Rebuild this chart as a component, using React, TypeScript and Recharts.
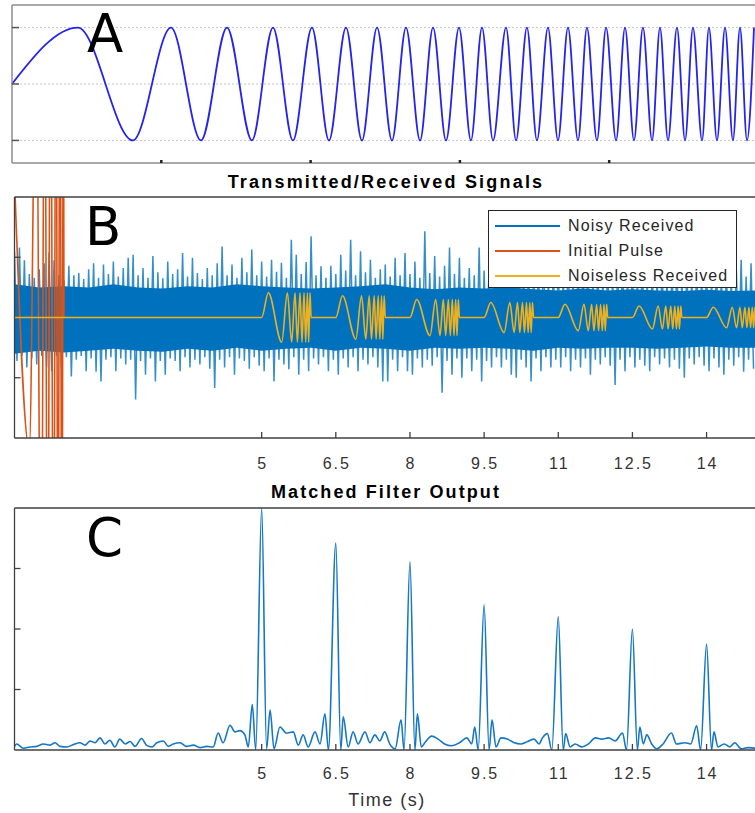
import React from "react";
import { ComposedChart, Line, Area, XAxis, YAxis, CartesianGrid, Legend } from "recharts";

// ---------- panel A: chirp, times of the extrema (peak first, then alternating)
const chirpExtremaTimes = [
  0.442, 0.81, 1.065, 1.266, 1.44, 1.607, 1.748, 1.882, 2.009, 2.123, 2.237, 2.344, 2.445,
  2.545, 2.639, 2.733, 2.82, 2.907, 2.994, 3.074, 3.148, 3.222, 3.309, 3.376, 3.449, 3.516,
  3.59, 3.657, 3.724, 3.791, 3.851, 3.918, 3.979, 4.046, 4.106, 4.166, 4.226, 4.287, 4.34,
  4.394, 4.454, 4.508, 4.561, 4.622, 4.668, 4.722, 4.776, 4.829, 4.876, 4.923, 4.97,
];
const chirpTicksX = [1, 2, 3, 4];
const chirpTicksY = [-1, 0, 1];

// ---------- panel B
const timeTicks = [5, 6.5, 8, 9.5, 11, 12.5, 14];
const signalTicksY = [-1, 1];
const legendNames = ["Noisy Received", "Initial Pulse", "Noiseless Received"];

// noisy received: spike tops / bottoms every 0.1 s
const noiseTop = [
  1.1, 1.16, 0.95, 0.72, 0.66, 0.8, 0.9, 1.08, 0.95, 0.7,
  0.62, 0.86, 0.7, 0.74, 0.64, 0.8, 0.9, 0.66, 0.88, 0.72,
  0.93, 0.68, 0.82, 0.99, 1.04, 0.7, 0.82, 0.66, 1.02, 0.75,
  0.65, 0.93, 0.72, 0.8, 1.07, 0.68, 0.99, 0.74, 0.64, 0.82,
  0.7, 0.9, 1.18, 0.7, 0.88, 0.66, 0.99, 0.75, 1.13, 0.7,
  0.93, 0.68, 0.96, 0.76, 0.91, 0.66, 1.29, 1.04, 0.72, 0.92,
  1.35, 0.7, 0.85, 0.66, 0.86, 0.72, 1.04, 0.78, 1.29, 0.7,
  1.1, 0.75, 0.96, 0.66, 0.8, 0.88, 0.68, 0.99, 0.7, 1.07,
  0.72, 0.93, 0.66, 1.43, 0.74, 1.02, 0.68, 0.86, 1.16, 0.72,
  0.99, 0.66, 0.82, 0.7, 1.16, 0.78, 0.86, 1.02, 0.68, 0.9,
  1.1, 0.7, 0.95, 0.66, 1.0, 0.74, 0.92, 1.12, 0.68, 0.88,
  0.96, 0.7, 1.05, 0.66, 0.9, 0.74, 1.08, 0.68, 0.9, 0.66,
  0.98, 0.72, 0.92, 1.0, 0.66, 0.88, 0.7, 1.02, 0.66, 0.9,
  0.72, 0.96, 0.66, 0.88, 1.0, 0.7, 0.9, 0.66, 0.94, 0.7,
  0.9, 0.66, 0.98, 0.72, 0.88, 0.66, 0.86, 0.96, 0.68, 0.9,
];
const noiseBottom = [
  -0.72, -0.64, -0.83, -0.68, -0.78, -0.64, -0.83, -0.89, -0.64, -0.83,
  -0.66, -0.98, -0.7, -0.64, -0.89, -0.68, -0.9, -1.06, -0.7, -0.66,
  -0.89, -0.68, -0.78, -0.7, -1.36, -0.72, -0.95, -0.68, -1.06, -0.72,
  -0.95, -0.68, -0.72, -0.89, -0.66, -0.83, -0.7, -0.78, -0.66, -0.85,
  -1.17, -0.7, -0.83, -0.66, -0.95, -0.68, -0.72, -0.85, -0.66, -0.8,
  -0.89, -0.68, -1.06, -0.7, -0.78, -0.86, -0.66, -0.95, -0.7, -0.89,
  -0.68, -0.78, -0.66, -0.89, -0.7, -0.95, -0.68, -0.83, -0.66, -0.89,
  -0.7, -0.78, -0.66, -0.83, -1.06, -1.06, -0.7, -0.89, -0.66, -0.89,
  -0.95, -0.68, -0.83, -0.7, -0.8, -0.66, -1.25, -0.72, -0.95, -0.68,
  -1.0, -0.68, -0.89, -0.7, -1.06, -0.72, -0.83, -0.66, -0.83, -0.7,
  -0.95, -1.0, -0.7, -0.83, -1.06, -0.68, -0.89, -0.66, -0.83, -0.7,
  -0.83, -0.66, -0.89, -0.7, -0.83, -0.68, -0.95, -0.7, -0.78, -0.66,
  -0.8, -1.12, -0.7, -0.89, -0.66, -0.83, -0.7, -0.8, -0.89, -0.66,
  -0.78, -0.68, -0.83, -0.7, -0.85, -1.0, -0.68, -0.78, -0.66, -0.8,
  -0.89, -0.68, -0.83, -0.95, -0.7, -0.8, -0.66, -0.9, -0.7, -0.85,
];
// dense core of the noise band, every 0.5 s
const coreTop = [
  0.55, 0.5, 0.52, 0.5, 0.55, 0.5, 0.48, 0.52, 0.5, 0.55, 0.52, 0.5, 0.48, 0.5, 0.52, 0.55,
  0.5, 0.47, 0.5, 0.48, 0.5, 0.47, 0.45, 0.48, 0.45, 0.47, 0.45, 0.44, 0.46, 0.44, 0.45,
];
const coreBottom = [
  -0.6, -0.55, -0.58, -0.55, -0.52, -0.55, -0.57, -0.52, -0.55, -0.5, -0.55, -0.52, -0.5, -0.55, -0.5, -0.52,
  -0.55, -0.5, -0.52, -0.5, -0.52, -0.55, -0.5, -0.52, -0.5, -0.5, -0.52, -0.5, -0.48, -0.5, -0.5,
];

// initial pulse (clipped by the axes)
const pulseTimes = [0, 0.3, 0.44, 0.54, 0.61, 0.67, 0.73, 0.79, 0.84, 0.88, 0.92, 0.96, 0.99, 1.0];
const pulseValues = [2.3, -2.2, 5, -6, 6, -6, 6, -6, 6, -6, 6, -6, 6, 0];

// noiseless echoes: start times, amplitudes, extrema offsets inside a 1 s echo
const echoStarts = [5, 6.5, 8, 9.5, 11, 12.5, 14];
const echoAmps = [0.41, 0.36, 0.3, 0.25, 0.22, 0.19, 0.17];
const echoExtremaOffsets = [0.135, 0.405, 0.52, 0.607, 0.675, 0.722, 0.776, 0.816, 0.857, 0.891, 0.925, 0.951, 0.978];

// ---------- panel C: matched filter output
const filterTicksY = [1, 2, 3];
const filterOutput: [number, number][] = [
  [0, 0.06], [0.044, 0.1], [0.18, 0.03], [0.31, 0.05], [0.45, 0.06], [0.58, 0.1], [0.72, 0.08],
  [0.82, 0.12], [0.92, 0.06], [1.06, 0.05], [1.19, 0.09], [1.32, 0.12], [1.43, 0.08], [1.53, 0.15],
  [1.63, 0.12], [1.73, 0.2], [1.83, 0.1], [1.93, 0.16], [2.03, 0.05], [2.13, 0.18], [2.24, 0.1],
  [2.34, 0.14], [2.44, 0.06], [2.57, 0.19], [2.67, 0.08], [2.78, 0.05], [2.88, 0.12], [3.01, 0.15],
  [3.11, 0.06], [3.21, 0.1], [3.35, 0.12], [3.48, 0.06], [3.62, 0.08], [3.75, 0.04], [3.89, 0.06],
  [4.02, 0.05], [4.12, 0.28], [4.22, 0.12], [4.36, 0.41], [4.46, 0.3], [4.56, 0.32], [4.66, 0.25],
  [4.73, 0.05], [4.81, 0.75], [4.88, 0.0], [5.0, 4.0], [5.1, 0.02], [5.17, 0.66], [5.25, 0.02],
  [5.37, 0.38], [5.5, 0.28], [5.64, 0.3], [5.74, 0.08], [5.84, 0.25], [5.94, 0.05], [6.08, 0.3],
  [6.18, 0.1], [6.28, 0.6], [6.35, 0.0], [6.5, 3.42], [6.6, 0.0], [6.65, 0.55], [6.75, 0.05],
  [6.85, 0.3], [6.95, 0.1], [7.09, 0.3], [7.19, 0.12], [7.29, 0.25], [7.39, 0.15], [7.49, 0.3],
  [7.59, 0.1], [7.7, 0.02], [7.82, 0.5], [7.88, 0.0], [8.0, 3.11], [8.1, 0.0], [8.15, 0.6],
  [8.23, 0.05], [8.3, 0.12], [8.44, 0.23], [8.57, 0.18], [8.7, 0.1], [8.84, 0.07], [9.0, 0.12],
  [9.15, 0.2], [9.25, 0.1], [9.31, 0.38], [9.38, 0.0], [9.5, 2.4], [9.6, 0.0], [9.66, 0.5],
  [9.74, 0.05], [9.84, 0.2], [9.97, 0.18], [10.11, 0.12], [10.24, 0.1], [10.38, 0.14], [10.51, 0.18],
  [10.61, 0.1], [10.68, 0.2], [10.78, 0.27], [10.87, 0.0], [11.0, 2.2], [11.1, 0.0], [11.15, 0.27],
  [11.24, 0.05], [11.34, 0.1], [11.48, 0.05], [11.61, 0.1], [11.75, 0.2], [11.88, 0.18], [12.02, 0.2],
  [12.15, 0.15], [12.3, 0.28], [12.38, 0.0], [12.5, 2.0], [12.6, 0.0], [12.65, 0.38], [12.72, 0.1],
  [12.79, 0.25], [12.89, 0.1], [12.99, 0.02], [13.12, 0.1], [13.29, 0.28], [13.39, 0.1], [13.56, 0.12],
  [13.68, 0.1], [13.8, 0.4], [13.88, 0.0], [14.0, 1.75], [14.1, 0.0], [14.15, 0.3], [14.23, 0.05],
  [14.36, 0.1], [14.47, 0.05], [14.57, 0.12], [14.7, 0.02], [14.84, 0.04], [15.0, 0.03],
];

const NOISE = "#0072BD";
const PULSE = "#D95319";
const ECHO = "#EDB120";
const AXIS = "#404040";
const TEXT = "#333333";
const SANS = '"Liberation Sans", Arial, sans-serif';
const legendColors = [NOISE, PULSE, ECHO];

type Pt = { t: number; v: number };

const chirpData: Pt[] = [{ t: 0, v: 0 }, ...chirpExtremaTimes.map((t, i) => ({ t, v: i % 2 === 0 ? 1 : -1 }))];

const noisyData: Pt[] = [];
noiseTop.forEach((top, i) => {
  noisyData.push({ t: i / 10, v: top });
  noisyData.push({ t: i / 10 + 0.05, v: noiseBottom[i] });
});
const coreData = coreTop.map((hi, i) => ({ t: i / 2, lo: coreBottom[i], hi }));

const pulseData: Pt[] = pulseTimes.map((t, i) => ({ t, v: pulseValues[i] }));

const noiselessData: Pt[] = [{ t: 0, v: 0 }];
echoStarts.forEach((s, k) => {
  noiselessData.push({ t: s, v: 0 });
  echoExtremaOffsets.forEach((o, j) => noiselessData.push({ t: s + o, v: (j % 2 === 0 ? 1 : -1) * echoAmps[k] }));
  noiselessData.push({ t: s + 1, v: 0 });
});

const filterData: Pt[] = filterOutput.map(([t, v]) => ({ t, v }));

type TickProps = { x?: number; y?: number; payload?: { value: number } };
type Side = "top" | "bottom" | "left" | "right";

function makeTick(side: Side, len: number, color: string, width: number, labelOffset?: number) {
  return (props: TickProps) => {
    const { x = 0, y = 0, payload } = props;
    const dx = side === "left" ? len : side === "right" ? -len : 0;
    const dy = side === "top" ? len : side === "bottom" ? -len : 0;
    return (
      <g>
        <line x1={x} y1={y} x2={x + dx} y2={y + dy} stroke={color} strokeWidth={width} />
        {labelOffset !== undefined && payload && (
          <text
            x={x + 1}
            y={y + labelOffset}
            dy="0.36em"
            textAnchor="middle"
            fontFamily={SANS}
            fontSize={16}
            letterSpacing={2}
            fill={TEXT}
          >
            {payload.value}
          </text>
        )}
      </g>
    );
  };
}

function SignalLegend() {
  return (
    <div
      style={{
        background: "#fff",
        border: "1.3px solid #262626",
        boxSizing: "border-box",
        width: 249,
        height: 78,
        padding: "2px 0 0 6px",
        fontFamily: SANS,
        fontSize: 16,
        letterSpacing: 1.1,
        color: "#262626",
      }}
    >
      {legendNames.map((name, i) => (
        <div key={name} style={{ display: "flex", alignItems: "center", height: 25 }}>
          <span style={{ display: "inline-block", width: 65, height: 0, borderTop: `2px solid ${legendColors[i]}`, marginRight: 8 }} />
          <span>{name}</span>
        </div>
      ))}
    </div>
  );
}

const axisLine = { stroke: AXIS, strokeWidth: 1.3 };

// every axis is 1px thick; the margins below already take it into account
function ChirpPanel() {
  const border = { stroke: "#8c8c8c", strokeWidth: 1.5 };
  return (
    <ComposedChart width={760} height={168} margin={{ top: 4, right: 0.5, bottom: 4, left: 11 }}>
      <CartesianGrid vertical={false} horizontalValues={chirpTicksY} stroke="#c4c4c4" strokeDasharray="2 2" />
      <XAxis dataKey="t" type="number" domain={[0, 5]} ticks={chirpTicksX} interval={0} height={1}
        tickSize={0} tickMargin={0} tickLine={false} axisLine={border} tick={makeTick("bottom", 3, "#222", 2.5)} />
      <XAxis xAxisId="top" orientation="top" type="number" domain={[0, 5]} ticks={chirpTicksX} interval={0}
        height={1} tickSize={0} tickMargin={0} tickLine={false} axisLine={border} tick={makeTick("top", 3, "#222", 2.5)} />
      <YAxis dataKey="v" type="number" domain={[-1.4, 1.4]} ticks={chirpTicksY} interval={0} width={1}
        tickSize={0} tickMargin={0} tickLine={false} axisLine={border} tick={makeTick("left", 7, "#555", 1.5)} />
      <YAxis yAxisId="right" orientation="right" type="number" domain={[-1.4, 1.4]} ticks={chirpTicksY}
        interval={0} width={1} tickSize={0} tickMargin={0} tickLine={false} axisLine={border}
        tick={makeTick("right", 7, "#555", 1.5)} />
      <Line data={chirpData} dataKey="v" type="monotone" stroke="#2424ee" strokeWidth={1.8} dot={false}
        isAnimationActive={false} />
    </ComposedChart>
  );
}

function SignalPanel() {
  return (
    <ComposedChart width={757} height={315} margin={{ top: 26, right: 0, bottom: 46, left: 13.5 }}>
      <XAxis dataKey="t" type="number" domain={[0, 15]} ticks={timeTicks} interval={0} height={1}
        allowDataOverflow tickSize={0} tickMargin={0} tickLine={false} axisLine={axisLine}
        tick={makeTick("bottom", 6, AXIS, 1.3, 25)} />
      <XAxis xAxisId="top" orientation="top" type="number" domain={[0, 15]} ticks={timeTicks} interval={0}
        height={1} tickSize={0} tickMargin={0} tickLine={false} axisLine={axisLine} tick={makeTick("top", 6, AXIS, 1.3)} />
      <YAxis type="number" domain={[-2, 2]} ticks={signalTicksY} interval={0} width={1} allowDataOverflow
        tickSize={0} tickMargin={0} tickLine={false} axisLine={axisLine} tick={makeTick("left", 6, AXIS, 1.3)} />
      <YAxis yAxisId="right" orientation="right" type="number" domain={[-2, 2]} ticks={signalTicksY} interval={0}
        width={1} tickSize={0} tickMargin={0} tickLine={false} axisLine={axisLine} tick={makeTick("right", 6, AXIS, 1.3)} />
      <Area data={coreData} dataKey={(d: { lo: number; hi: number }) => [d.lo, d.hi]} type="linear" stroke="none"
        fill={NOISE} fillOpacity={1} legendType="none" isAnimationActive={false} />
      <Line data={noisyData} dataKey="v" name="Noisy Received" type="linear" stroke={NOISE} strokeWidth={1.5}
        strokeOpacity={0.8} dot={false} isAnimationActive={false} />
      <Line data={pulseData} dataKey="v" name="Initial Pulse" type="monotone" stroke={PULSE} strokeWidth={1.6}
        dot={false} isAnimationActive={false} />
      <Line data={noiselessData} dataKey="v" name="Noiseless Received" type="monotone" stroke={ECHO}
        strokeWidth={1.6} dot={false} isAnimationActive={false} />
      <Legend layout="vertical" align="center" verticalAlign="middle" content={<SignalLegend />}
        wrapperStyle={{ left: 488, top: 40, width: 249, height: 78 }} />
    </ComposedChart>
  );
}

function FilterPanel() {
  return (
    <ComposedChart width={757} height={333} margin={{ top: 27, right: 0, bottom: 62, left: 13.5 }}>
      <XAxis dataKey="t" type="number" domain={[0, 15]} ticks={timeTicks} interval={0} height={1}
        tickSize={0} tickMargin={0} tickLine={false} axisLine={axisLine} tick={makeTick("bottom", 6, AXIS, 1.3, 23)} />
      <XAxis xAxisId="top" orientation="top" type="number" domain={[0, 15]} ticks={timeTicks} interval={0}
        height={1} tickSize={0} tickMargin={0} tickLine={false} axisLine={axisLine} tick={makeTick("top", 6, AXIS, 1.3)} />
      <YAxis type="number" domain={[0, 4]} ticks={filterTicksY} interval={0} width={1} allowDataOverflow
        tickSize={0} tickMargin={0} tickLine={false} axisLine={axisLine} tick={makeTick("left", 6, AXIS, 1.3)} />
      <YAxis yAxisId="right" orientation="right" type="number" domain={[0, 4]} ticks={filterTicksY} interval={0}
        width={1} tickSize={0} tickMargin={0} tickLine={false} axisLine={axisLine} tick={makeTick("right", 6, AXIS, 1.3)} />
      <Line data={filterData} dataKey="v" type="monotone" stroke="#1677c4" strokeWidth={1.6} dot={false}
        isAnimationActive={false} />
    </ComposedChart>
  );
}

export default function App() {
  return (
    <div style={{ position: "absolute", left: 0, top: 0, width: 755, height: 813, overflow: "hidden", background: "#fff" }}>
      <div style={{ position: "absolute", left: 0, top: 0 }}>
        <ChirpPanel />
      </div>
      <div style={{ position: "absolute", left: 0, top: 170 }}>
        <SignalPanel />
      </div>
      <div style={{ position: "absolute", left: 0, top: 480 }}>
        <FilterPanel />
      </div>
      <svg width={755} height={813} style={{ position: "absolute", left: 0, top: 0, pointerEvents: "none" }}>
        <g fontFamily='"DejaVu Sans", sans-serif' fontSize={53} fill="#000">
          <text x={87} y={52}>A</text>
          <text x={85} y={245}>B</text>
          <text x={86} y={556}>C</text>
        </g>
        <g fontFamily={SANS} fontWeight="bold" fontSize={18} fill="#000" textAnchor="middle">
          <text x={386} y={188} letterSpacing={2.2}>Transmitted/Received Signals</text>
          <text x={386} y={498} letterSpacing={2.1}>Matched Filter Output</text>
        </g>
        <text x={387} y={806} fontFamily={SANS} fontSize={18} letterSpacing={1.5} fill={TEXT} textAnchor="middle">
          Time (s)
        </text>
      </svg>
    </div>
  );
}
